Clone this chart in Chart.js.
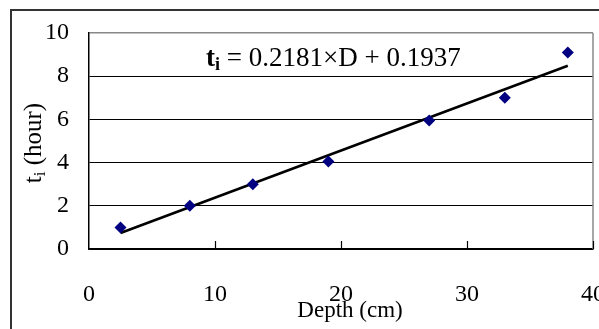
<!DOCTYPE html>
<html>
<head>
<meta charset="utf-8">
<script src="https://cdn.jsdelivr.net/npm/chart.js@4/dist/chart.umd.min.js"></script>
<style>
html,body{margin:0;padding:0;background:#fff;}
canvas{display:block;}
</style>
</head>
<body>
<canvas id="c" width="599" height="329"></canvas>
<script>
// Measured data (depth in cm, time in hours)
const depths = [2.5, 8, 13, 19, 27, 33, 38];
const hours = [1.0, 2.0, 3.0, 4.05, 5.95, 7.0, 9.1];
// Trend line end points (t = 0.2181*D + 0.1937)
const trendDepths = [2.5, 38];
const trendHours = [0.74, 8.48];
const xTicks = [0, 10, 20, 30, 40];
const yTicks = [0, 2, 4, 6, 8, 10];
const equationText = " = 0.2181\u00d7D + 0.1937";
const xTitle = "Depth (cm)";
const yTitle = " (hour)";

const SERIF = '"Liberation Serif", "Times New Roman", serif';

const deco = {
  id: 'deco',
  afterDraw(chart) {
    const ctx = chart.ctx;
    const ca = chart.chartArea;
    const xs = chart.scales.x;
    ctx.save();
    // outer frame
    ctx.strokeStyle = '#333';
    ctx.lineWidth = 2;
    ctx.beginPath();
    ctx.moveTo(11, 329);
    ctx.lineTo(11, 10);
    ctx.lineTo(599, 10);
    ctx.stroke();
    // right plot border
    ctx.strokeStyle = '#888';
    ctx.lineWidth = 1.5;
    ctx.beginPath();
    ctx.moveTo(ca.right, ca.top);
    ctx.lineTo(ca.right, ca.bottom);
    ctx.stroke();
    // inward x ticks
    ctx.strokeStyle = '#000';
    ctx.lineWidth = 1.2;
    xTicks.slice(1).forEach(v => {
      const px = Math.round(xs.getPixelForValue(v)) + 0.5;
      ctx.beginPath();
      ctx.moveTo(px, ca.bottom);
      ctx.lineTo(px, ca.bottom - 8);
      ctx.stroke();
    });
    // equation
    ctx.fillStyle = '#000';
    ctx.textBaseline = 'alphabetic';
    ctx.textAlign = 'left';
    let x = 206, y = 66;
    ctx.font = 'bold 27px ' + SERIF;
    ctx.fillText('t', x, y);
    x += ctx.measureText('t').width;
    ctx.font = 'bold 18px ' + SERIF;
    ctx.fillText('i', x, y + 4);
    x += ctx.measureText('i').width;
    ctx.font = '27px ' + SERIF;
    ctx.fillText(equationText, x, y);
    // x title
    ctx.font = '23px ' + SERIF;
    ctx.textAlign = 'center';
    ctx.textBaseline = 'middle';
    ctx.fillText(xTitle, 350, 311);
    // y title
    ctx.translate(33, 143);
    ctx.rotate(-Math.PI / 2);
    ctx.textAlign = 'left';
    ctx.textBaseline = 'alphabetic';
    ctx.font = '25px ' + SERIF;
    const w1 = ctx.measureText('t').width;
    ctx.font = '17px ' + SERIF;
    const w2 = ctx.measureText('i').width;
    ctx.font = '25px ' + SERIF;
    const w3 = ctx.measureText(yTitle).width;
    let sx = -(w1 + w2 + w3) / 2;
    ctx.fillText('t', sx, 8);
    sx += w1;
    ctx.font = '17px ' + SERIF;
    ctx.fillText('i', sx, 12);
    sx += w2;
    ctx.font = '25px ' + SERIF;
    ctx.fillText(yTitle, sx, 8);
    ctx.restore();
  }
};

new Chart(document.getElementById('c'), {
  type: 'scatter',
  data: {
    datasets: [
      {
        label: 'trend',
        data: trendDepths.map((d, i) => ({x: d, y: trendHours[i]})),
        showLine: true,
        borderColor: '#000',
        borderWidth: 2.6,
        pointRadius: 0,
        order: 2
      },
      {
        label: 'data',
        data: depths.map((d, i) => ({x: d, y: hours[i]})),
        pointStyle: 'rectRot',
        pointRadius: 6,
        backgroundColor: '#000080',
        borderColor: '#000080',
        borderWidth: 0,
        order: 1
      }
    ]
  },
  options: {
    responsive: false,
    animation: false,
    layout: {padding: {left: 0, right: 5, top: 33, bottom: 0}},
    plugins: {legend: {display: false}, tooltip: {enabled: false}},
    scales: {
      x: {
        type: 'linear', min: 0, max: 40,
        afterBuildTicks: s => { s.ticks = xTicks.map(v => ({value: v})); },
        afterFit: s => { s.height = 80; s.paddingLeft = 0; s.paddingRight = 0; },
        ticks: {padding: 31, color: '#000', font: {family: SERIF, size: 24}, maxRotation: 0, autoSkip: false},
        grid: {drawOnChartArea: false, drawTicks: false},
        border: {color: '#000', width: 1.5}
      },
      y: {
        type: 'linear', min: 0, max: 10,
        afterBuildTicks: s => { s.ticks = yTicks.map(v => ({value: v})); },
        afterFit: s => { s.width = 89; s.paddingTop = 0; s.paddingBottom = 0; },
        ticks: {padding: 20, color: '#000', font: {family: SERIF, size: 24}},
        grid: {
          drawTicks: false,
          color: c => (c.tick && c.tick.value === 10) ? '#888' : '#000',
          lineWidth: c => (c.tick && c.tick.value === 10) ? 1.5 : 1
        },
        border: {color: '#000', width: 1.5}
      }
    }
  },
  plugins: [deco]
});
</script>
</body>
</html>
